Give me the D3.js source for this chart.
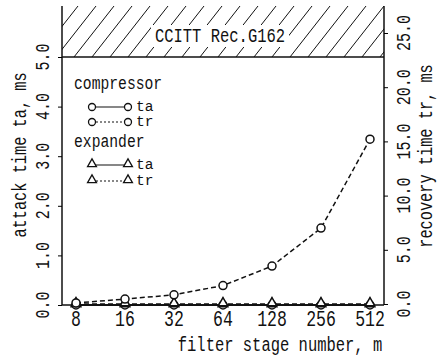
<!DOCTYPE html>
<html>
<head>
<meta charset="utf-8">
<script src="https://cdn.jsdelivr.net/npm/d3@7"></script>
<style>
  body { margin: 0; background: #fff; }
  text { fill: #111; font-family: 'Liberation Mono', 'DejaVu Sans Mono', monospace; }
</style>
</head>
<body>
<div id="chart"></div>
<script>
// filter stage number m (x axis)
const stages = [8, 16, 32, 64, 128, 256, 512];
// compressor
const compTa = [0, 0, 0, 0, 0, 0, 0];            // ms, left axis
const compTr = [0.1, 0.45, 0.85, 1.7, 3.5, 7.0, 15.2]; // ms, right axis
// expander
const expTa = [0, 0, 0, 0, 0, 0, 0];             // ms, left axis
const expTr = [0, 0, 0, 0, 0, 0, 0];             // ms, right axis

const leftTicks = [0, 1, 2, 3, 4, 5];
const rightTicks = [0, 5, 10, 15, 20, 25];
const limitLabel = 'CCITT Rec.G162';

const width = 438;
const height = 356;
const svg = d3.select("#chart").append("svg")
    .attr("width", width)
    .attr("height", height);

// plot box
const pLeft = 62, pRight = 384, pTop = 6, pBottom = 305;

const x = d3.scaleLog().base(2).domain([8, 512]).range([76, 370]);
const yL = d3.scaleLinear().domain([0, 5]).range([pBottom, 57]);
const yR = d3.scaleLinear().domain([0, 25]).range([pBottom - 1, 33]);

// text with the tall narrow typewriter look
function txt(px, py, s, o = {}) {
    const g = svg.append("g").attr("transform", `translate(${px},${py}) rotate(${o.rot || 0})`);
    g.append("text")
        .attr("transform", `scale(1,${o.sy || 1.35})`)
        .attr("text-anchor", o.anchor || "middle")
        .attr("dominant-baseline", "central")
        .style("font-size", (o.size || 15) + "px")
        .text(s);
}

// hatched area above 5.0 ms
const topLimit = yL(5);
svg.append("clipPath").attr("id", "hclip")
    .append("rect").attr("x", pLeft).attr("y", pTop).attr("width", pRight - pLeft).attr("height", topLimit - pTop);
const hatch = svg.append("g").attr("clip-path", "url(#hclip)");
for (let hx = pLeft - 60; hx < pRight + 20; hx += 18) {
    hatch.append("line")
        .attr("x1", hx).attr("y1", topLimit)
        .attr("x2", hx + 40).attr("y2", pTop)
        .attr("stroke", "#111").attr("stroke-width", 1);
}
svg.append("rect").attr("x", 151).attr("y", 25).attr("width", 138).attr("height", 22).attr("fill", "#fff");
txt(220, 36, limitLabel, { size: 15.5, sy: 1.3 });

// frame
const frame = svg.append("g").attr("stroke", "#111").attr("stroke-width", 1.5).attr("fill", "none");
frame.append("line").attr("x1", pLeft).attr("x2", pLeft).attr("y1", pTop).attr("y2", pBottom);
frame.append("line").attr("x1", pRight).attr("x2", pRight).attr("y1", pTop).attr("y2", pBottom);
frame.append("line").attr("x1", pLeft).attr("x2", pRight).attr("y1", pBottom).attr("y2", pBottom);
frame.append("line").attr("x1", pLeft).attr("x2", pRight).attr("y1", topLimit).attr("y2", topLimit);

// axis ticks
svg.append("g").attr("transform", `translate(${pLeft},0)`)
    .call(d3.axisLeft(yL).tickValues(leftTicks).tickSize(4).tickFormat(""))
    .call(g => g.select(".domain").remove());
svg.append("g").attr("transform", `translate(${pRight},0)`)
    .call(d3.axisRight(yR).tickValues(rightTicks).tickSize(4).tickFormat(""))
    .call(g => g.select(".domain").remove());

// tick labels
leftTicks.forEach(v => txt(43, yL(v), d3.format(".1f")(v), { rot: -90, size: 15, sy: 1.4 }));
rightTicks.forEach(v => txt(404, yR(v), d3.format(".1f")(v), { rot: -90, size: 15, sy: 1.4 }));
stages.forEach(v => txt(x(v), 320, String(v), { size: 16.5, sy: 1.35 }));

// axis titles
txt(280, 345, 'filter stage number, m', { size: 15.5, sy: 1.25 });
txt(20, 155, 'attack time ta, ms', { rot: -90, size: 15.3, sy: 1.3 });
txt(426, 156, 'recovery time tr, ms', { rot: -90, size: 15.3, sy: 1.3 });

// series
const tri = d3.symbol().type(d3.symbolTriangle).size(38);

function series(vals, ys, dash) {
    const pts = stages.map((s, i) => [x(s), ys(vals[i])]);
    svg.append("path")
        .attr("d", d3.line()(pts))
        .attr("fill", "none")
        .attr("stroke", "#111")
        .attr("stroke-width", 1.5)
        .attr("stroke-dasharray", dash);
    return pts;
}

const pExpTr = series(expTr, yR, "5,3");
const pExpTa = series(expTa, yL, null);
const pCompTa = series(compTa, yL, null);
const pCompTr = series(compTr, yR, "5,3");

function circles(pts) {
    svg.append("g").selectAll("circle").data(pts).join("circle")
        .attr("cx", d => d[0]).attr("cy", d => d[1]).attr("r", 4)
        .attr("fill", "#fff").attr("stroke", "#111").attr("stroke-width", 1.5);
}
function triangles(pts) {
    svg.append("g").selectAll("path").data(pts).join("path")
        .attr("d", tri)
        .attr("transform", d => `translate(${d[0]},${d[1] - 1})`)
        .attr("fill", "#fff").attr("stroke", "#111").attr("stroke-width", 1.5);
}
circles(pCompTa);
triangles(pExpTa);
triangles(pExpTr);
circles(pCompTr);

// legend
const lg = svg.append("g");
txt(74, 84, 'compressor', { anchor: "start", size: 14.7, sy: 1.3 });
txt(74, 142, 'expander', { anchor: "start", size: 14.7, sy: 1.3 });
const rows = [
    { y: 107, dash: null, mark: "c", label: "ta" },
    { y: 122, dash: "2,2", mark: "c", label: "tr" },
    { y: 165, dash: null, mark: "t", label: "ta" },
    { y: 181, dash: "2,2", mark: "t", label: "tr" }
];
rows.forEach(r => {
    lg.append("line").attr("x1", 92).attr("x2", 128).attr("y1", r.y).attr("y2", r.y)
        .attr("stroke", "#111").attr("stroke-width", 1.2).attr("stroke-dasharray", r.dash);
    [92, 128].forEach(cx => {
        if (r.mark === "c") {
            lg.append("circle").attr("cx", cx).attr("cy", r.y).attr("r", 3.5)
                .attr("fill", "#fff").attr("stroke", "#111").attr("stroke-width", 1.3);
        } else {
            lg.append("path").attr("d", d3.symbol().type(d3.symbolTriangle).size(34))
                .attr("transform", `translate(${cx},${r.y - 1})`)
                .attr("fill", "#fff").attr("stroke", "#111").attr("stroke-width", 1.3);
        }
    });
    txt(136, r.y, r.label, { anchor: "start", size: 14.5, sy: 1.0 });
});
</script>
</body>
</html>
